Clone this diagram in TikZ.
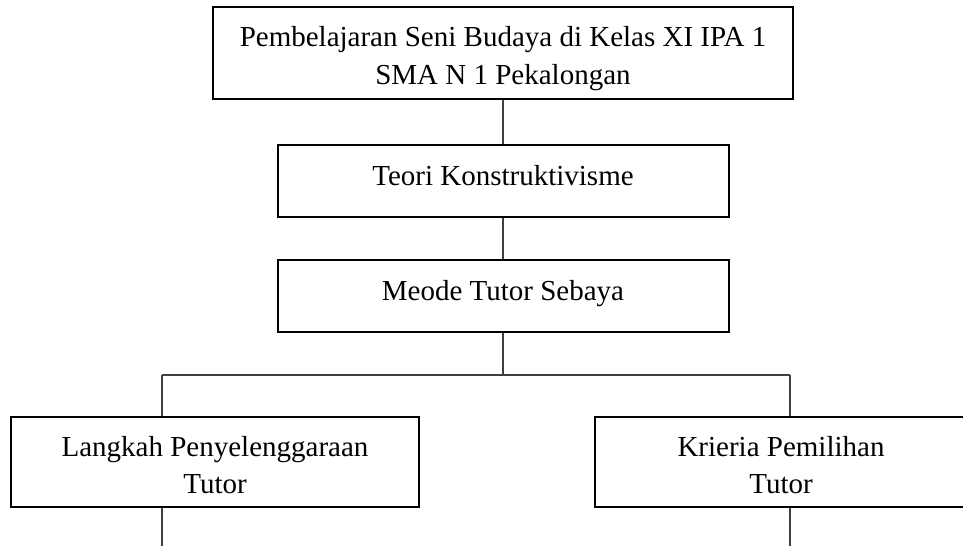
\documentclass[tikz,border=0pt]{standalone}
\usepackage{fontspec}
\setmainfont{Liberation Serif}
\begin{document}
\begin{tikzpicture}[x=1pt,y=-1pt,
  box/.style={draw=black, line width=2pt, inner sep=0pt, align=center, font=\fontsize{29}{38}\selectfont},
  lowbox/.style={box, minimum height=90pt, font=\fontsize{29}{37}\selectfont},
  midbox/.style={box, minimum width=451pt, text height=40pt, text depth=32pt, anchor=base},
  conn/.style={draw=black!75, line width=1.2pt}]
\useasboundingbox (0,0) rectangle (963,546);
\clip (0,0) rectangle (963,546);
\node[box, minimum width=580pt, minimum height=92pt] (b1) at (503,53)
  {\rule{0pt}{30.3pt}Pembelajaran Seni Budaya di Kelas XI IPA 1\\SMA N 1 Pekalongan};
\node[midbox] (b2) at (503,185) {Teori Konstruktivisme};
\node[midbox] (b3) at (503,300) {Meode Tutor Sebaya};
\node[lowbox, minimum width=408pt] (b4) at (215,462) {\rule{0pt}{25.8pt}Langkah Penyelenggaraan\\Tutor};
\node[lowbox, minimum width=372pt] (b5) at (781,462) {\rule{0pt}{25.8pt}Krieria Pemilihan\\Tutor};
\coordinate (j) at (503,375);
\coordinate (jl) at (162,375);
\coordinate (jr) at (790,375);
\coordinate (el) at (162,546);
\coordinate (er) at (790,546);
\draw[conn] (b1.south) -- (b2.north);
\draw[conn] (b2.south) -- (b3.north);
\draw[conn] (b3.south) -- (j);
\draw[conn] (jl) -- (jr);
\draw[conn] (jl) -- (jl |- b4.north);
\draw[conn] (jr) -- (jr |- b5.north);
\draw[conn] (jl |- b4.south) -- (el);
\draw[conn] (jr |- b5.south) -- (er);
\end{tikzpicture}
\end{document}
